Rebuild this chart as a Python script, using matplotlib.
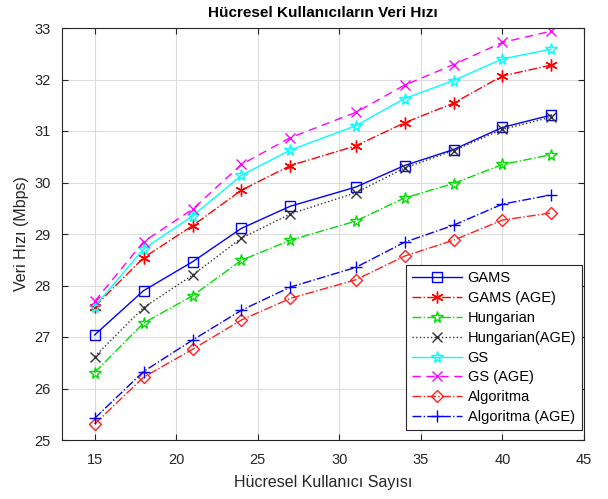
import matplotlib
matplotlib.use("Agg")
import matplotlib.pyplot as plt

plt.rcParams['font.family'] = ['Liberation Sans', 'DejaVu Sans']

users = [15, 18, 21, 24, 27, 31, 34, 37, 40, 43]

gams = [27.04, 27.90, 28.46, 29.11, 29.54, 29.91, 30.33, 30.64, 31.07, 31.31]
gams_age = [27.59, 28.54, 29.16, 29.85, 30.33, 30.71, 31.16, 31.54, 32.07, 32.28]
hungarian = [26.31, 27.27, 27.80, 28.49, 28.88, 29.25, 29.70, 29.98, 30.35, 30.54]
hungarian_age = [26.62, 27.57, 28.20, 28.92, 29.39, 29.80, 30.28, 30.62, 31.03, 31.27]
gs = [27.59, 28.71, 29.35, 30.14, 30.63, 31.10, 31.63, 31.98, 32.40, 32.59]
gs_age = [27.69, 28.85, 29.48, 30.35, 30.87, 31.36, 31.89, 32.29, 32.72, 32.94]
algoritma = [25.31, 26.22, 26.76, 27.33, 27.75, 28.11, 28.57, 28.88, 29.27, 29.41]
algoritma_age = [25.42, 26.33, 26.94, 27.52, 27.97, 28.35, 28.84, 29.17, 29.58, 29.76]

labels = ['GAMS', 'GAMS (AGE)', 'Hungarian', 'Hungarian(AGE)', 'GS', 'GS (AGE)',
          'Algoritma', 'Algoritma (AGE)']
x_ticks = [15, 20, 25, 30, 35, 40, 45]
y_ticks = [25, 26, 27, 28, 29, 30, 31, 32, 33]

fig = plt.figure(figsize=(6.08, 4.99), dpi=100)
ax = fig.add_axes([62/608, 1-440/499, (584-62)/608, (440-28)/499])

series = [gams, gams_age, hungarian, hungarian_age, gs, gs_age, algoritma, algoritma_age]
styles = [
    dict(color='#0000FF', ls='-', marker='s', ms=6.5),
    dict(color='#FF0000', ls='-.', marker=(6, 2, 0), ms=8.5),
    dict(color='#00DD00', ls='-.', marker='*', ms=8.5),
    dict(color='#333333', ls=':', marker='x', ms=6.5),
    dict(color='#00FFFF', ls='-', marker='*', ms=8.5),
    dict(color='#FF00FF', ls=(0, (6, 4)), marker='x', ms=7.5),
    dict(color='#FF2020', ls='-.', marker='D', ms=6.5),
    dict(color='#0000FF', ls='-.', marker='+', ms=8.5),
]
for y, lab, st in zip(series, labels, styles):
    ax.plot(users, y, label=lab, lw=1.0, mfc='none', mew=1.0, **st)

ax.set_xlim(13, 45)
ax.set_ylim(25, 33)
ax.set_xticks(x_ticks)
ax.set_yticks(y_ticks)
ax.grid(True, color='#dddddd', lw=0.8)
ax.set_axisbelow(True)
ax.tick_params(direction='in', length=4, labelsize=10.5, colors='#262626', top=True, right=True)
ax.tick_params(axis='x', pad=9)
ax.tick_params(axis='y', pad=8)
ax.tick_params(labeltop=False, labelright=False)
for s in ax.spines.values():
    s.set_color('#262626')
    s.set_linewidth(0.8)

ax.set_title('Hücresel Kullanıcıların Veri Hızı', fontsize=11, fontweight='bold', pad=8)
ax.set_xlabel('Hücresel Kullanıcı Sayısı', fontsize=11.5, color='#262626', labelpad=6)
ax.set_ylabel('Veri Hızı (Mbps)', fontsize=11.5, color='#262626', labelpad=4)

leg = ax.legend(loc='lower right', fontsize=10.5, fancybox=False, framealpha=1,
                edgecolor='#262626', handlelength=3.4, borderaxespad=0.0,
                bbox_to_anchor=(0.9962, 0.0243), labelspacing=0.4, handletextpad=0.4)
leg.get_frame().set_linewidth(0.8)

fig.savefig('out.png', dpi=100)
